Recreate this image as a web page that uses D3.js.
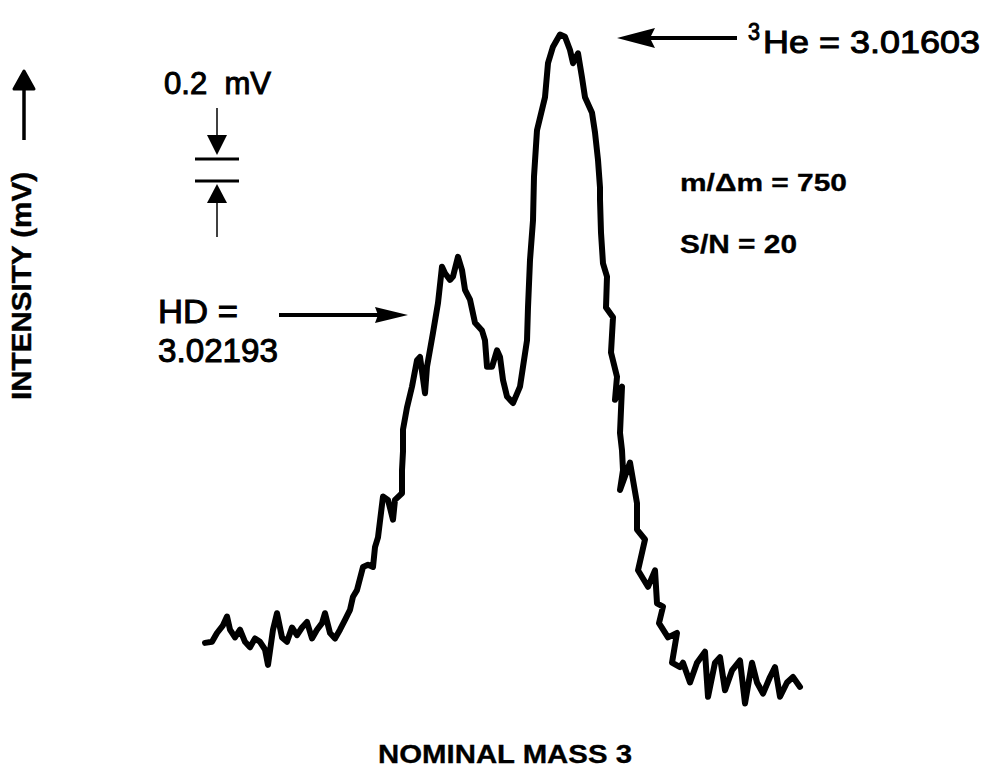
<!DOCTYPE html>
<html>
<head>
<meta charset="utf-8">
<script src="https://cdn.jsdelivr.net/npm/d3@7"></script>
<style>
  html, body { margin: 0; padding: 0; background: #fff; }
  svg { display: block; font-family: "Liberation Sans", Arial, Helvetica, sans-serif; }
</style>
</head>
<body>
<svg id="chart" width="991" height="776"></svg>
<script>
// Scan position (recorder channel) and intensity (mV)
const scanPos = [0,7,12,18,22,25,30,35,40,45,50,55,60,63,68,72,77,82,87,92,97,102,107,112,117,120,125,130,135,140,145,148,152,158,163,168,170,173,178,183,188,190,197,197,198,198,202,207,212,215,220,222,228,233,237,240,245,248,253,257,260,265,270,277,280,282,287,292,295,298,302,308,315,318,322,323,325,328,329,332,340,343,348,355,360,365,368,373,377,380,387,390,393,395,395,396,398,402,401,408,406,412,410,417,415,417,418,415,425,432,432,440,433,443,450,452,458,454,463,472,467,475,478,485,492,500,503,510,515,520,527,535,540,547,552,558,565,570,575,582,588,595];
const intensity = [0.61,0.62,0.70,0.77,0.85,0.73,0.66,0.73,0.62,0.57,0.65,0.62,0.55,0.41,0.73,0.88,0.66,0.62,0.75,0.68,0.75,0.80,0.65,0.73,0.79,0.88,0.70,0.65,0.73,0.82,0.91,1.03,1.09,1.30,1.32,1.30,1.48,1.57,1.94,1.91,1.73,1.91,1.97,2.18,2.35,2.55,2.75,2.94,3.18,3.21,2.88,3.12,3.43,3.70,4.03,3.97,3.91,3.94,4.12,4.00,3.82,3.73,3.52,3.45,3.36,3.12,3.12,3.27,3.21,3.00,2.85,2.79,2.94,3.12,3.36,3.66,4.09,4.45,4.85,5.27,5.57,5.88,6.03,6.14,6.12,6.00,5.88,5.97,5.75,5.57,5.43,5.25,5.00,4.75,4.64,4.34,4.06,3.94,3.66,3.57,3.25,3.03,2.82,2.94,2.52,2.36,2.18,2.00,2.25,1.88,1.64,1.55,1.27,1.12,1.27,0.97,0.94,0.79,0.66,0.70,0.43,0.39,0.43,0.25,0.43,0.53,0.12,0.43,0.48,0.18,0.36,0.45,0.06,0.43,0.25,0.15,0.30,0.39,0.12,0.25,0.30,0.21];

const heLabel = "He = 3.01603";
const heSup = "3";
const hdLabel = ["HD =", "3.02193"];
const resolutionLabel = "m/Δm = 750";
const snLabel = "S/N = 20";
const xTitle = "NOMINAL MASS 3";
const yTitle = "INTENSITY (mV)";
const scaleBarValue = 0.2;
const scaleBarLabel = "0.2  mV";

const svg = d3.select("#chart");
const x = d3.scaleLinear().domain([0, 595]).range([205, 800]);
const y = d3.scaleLinear().domain([0, 6.2]).range([710, 28]);

const data = scanPos.map((d, i) => ({x: d, y: intensity[i]}));

// trace
svg.append("path")
  .datum(data)
  .attr("fill", "none")
  .attr("stroke", "#000")
  .attr("stroke-width", 6)
  .attr("stroke-linejoin", "round")
  .attr("stroke-linecap", "round")
  .attr("d", d3.line().x(d => x(d.x)).y(d => y(d.y)));

function txt(s, xx, yy, size, len, weight, sw) {
  return svg.append("text")
    .attr("x", xx).attr("y", yy)
    .attr("font-size", size)
    .attr("font-weight", weight || "normal")
    .attr("fill", "#000")
    .attr("stroke", "#000").attr("stroke-width", sw == null ? 1 : sw)
    .attr("textLength", len)
    .attr("lengthAdjust", "spacingAndGlyphs")
    .style("white-space", "pre")
    .text(s);
}

// y-axis title with arrow
svg.append("text")
  .attr("transform", "translate(31,400) rotate(-90)")
  .attr("font-size", 28)
  .attr("font-weight", "bold")
  .attr("fill", "#000").attr("stroke", "#000").attr("stroke-width", 0.4)
  .attr("textLength", 228).attr("lengthAdjust", "spacingAndGlyphs")
  .text(yTitle);
svg.append("line").attr("x1", 24).attr("x2", 24).attr("y1", 140).attr("y2", 86)
  .attr("stroke", "#000").attr("stroke-width", 3.5);
svg.append("path").attr("d", "M24,71 L34,89 L14,89 Z").attr("fill", "#000")
  .attr("stroke", "#000").attr("stroke-width", 3).attr("stroke-linejoin", "round");

// scale bar
const barTop = 159;
const barGap = y(0) - y(scaleBarValue);
const bx = 217;
txt(scaleBarLabel, 164, 94, 31, 107);
svg.append("line").attr("x1", bx).attr("x2", bx).attr("y1", 108).attr("y2", 138).attr("stroke", "#000").attr("stroke-width", 1.5);
svg.append("path").attr("d", `M${bx-10},135 L${bx+10},135 L${bx},${barTop-4} Z`).attr("fill", "#000");
svg.append("line").attr("x1", 195).attr("x2", 239).attr("y1", barTop).attr("y2", barTop).attr("stroke", "#000").attr("stroke-width", 3);
svg.append("line").attr("x1", 195).attr("x2", 239).attr("y1", barTop + barGap).attr("y2", barTop + barGap).attr("stroke", "#000").attr("stroke-width", 3);
svg.append("path").attr("d", `M${bx},${barTop + barGap + 3} L${bx+10},${barTop + barGap + 22} L${bx-10},${barTop + barGap + 22} Z`).attr("fill", "#000");
svg.append("line").attr("x1", bx).attr("x2", bx).attr("y1", barTop + barGap + 20).attr("y2", 237).attr("stroke", "#000").attr("stroke-width", 1.5);

// HD annotation
txt(hdLabel[0], 158, 323, 33, 80);
txt(hdLabel[1], 158, 362, 33, 120);
svg.append("line").attr("x1", 279).attr("x2", 385).attr("y1", 315).attr("y2", 315).attr("stroke", "#000").attr("stroke-width", 4);
svg.append("path").attr("d", "M408,315 L375,307 L378,315 L375,323 Z").attr("fill", "#000");

// 3He annotation
txt(heSup, 748, 40, 24, 12);
txt(heLabel, 763, 53, 32, 217);
svg.append("line").attr("x1", 737).attr("x2", 645).attr("y1", 38).attr("y2", 38).attr("stroke", "#000").attr("stroke-width", 4);
svg.append("path").attr("d", "M617,38 L655,28 L650,38 L655,48 Z").attr("fill", "#000");

// stats
txt(resolutionLabel, 680, 191, 23, 167, "bold", 0.3);
txt(snLabel, 680, 253, 25, 117, "bold", 0.3);

// x title
txt(xTitle, 378, 763, 25, 254, "bold", 0.3);
</script>
</body>
</html>
